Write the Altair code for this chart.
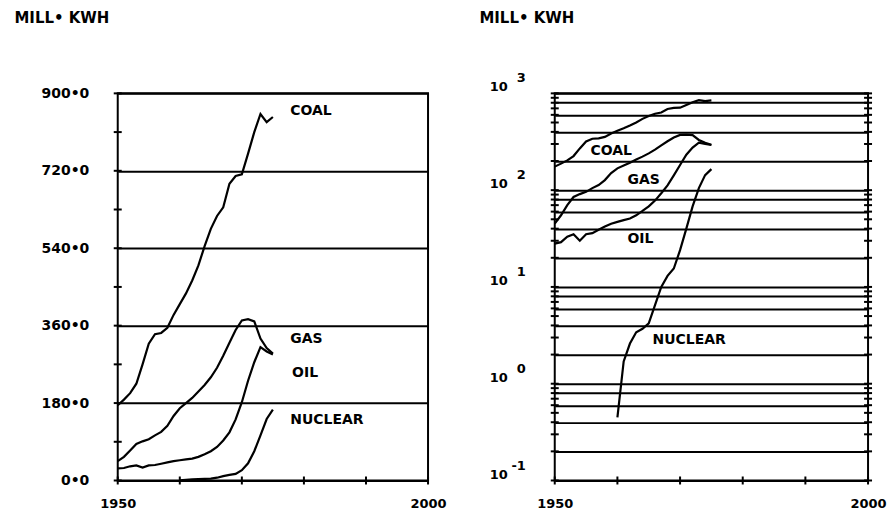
import altair as alt
import pandas as pd

# ---------------- data ----------------
years = list(range(1950, 1976))
coal = [175, 188, 203, 225, 270, 318, 340, 343, 355, 385, 410, 435, 465, 500,
        545, 585, 615, 635, 690, 708, 712, 760, 810, 852, 833, 845]
gas = [45, 55, 70, 85, 91, 96, 105, 113, 127, 150, 168, 180, 192, 207,
       222, 240, 262, 290, 320, 350, 372, 375, 370, 330, 308, 295]
oil = [28, 29, 33, 35, 30, 35, 36, 39, 42, 45, 47, 49, 51, 55,
       61, 68, 78, 93, 112, 142, 182, 232, 275, 310, 300, 293]
nuclear_years = list(range(1960, 1976))
nuclear = [0.45, 1.7, 2.6, 3.4, 3.7, 4.2, 6.5, 10, 13, 15.5, 24, 40, 68, 105, 143, 165]

label_names = ["COAL", "GAS", "OIL", "NUCLEAR"]
lin_label_year = [1977.8, 1977.8, 1978.1, 1977.8]
lin_label_value = [858, 329, 250, 141]
log_label_year = [1955.7, 1961.6, 1961.6, 1965.6]
log_label_value = [252, 128, 31, 2.81]

lin_ticks = list(range(0, 901, 90))
lin_grid = [0, 180, 360, 540, 720, 900]
year_ticks = list(range(1950, 2001, 10))
decades = [0.1, 1, 10, 100, 1000]
exponents = ["-1", "0", "1", "2", "3"]
log_grid = [m * d for d in [0.1, 1, 10, 100] for m in (1, 2, 4, 6, 8)] + [1000]
log_ticks = [m * d for d in [0.1, 1, 10, 100] for m in range(1, 10)] + [1000]

# ---------------- tables ----------------
rows = []
for name, vals in [("COAL", coal), ("GAS", gas), ("OIL", oil)]:
    rows += [{"source": name, "year": y, "value": v} for y, v in zip(years, vals)]
rows += [{"source": "NUCLEAR", "year": y, "value": v} for y, v in zip(nuclear_years, nuclear)]
df = pd.DataFrame(rows)

lin_lab = pd.DataFrame({"text": label_names, "year": lin_label_year, "value": lin_label_value})
log_lab = pd.DataFrame({"text": label_names, "year": log_label_year, "value": log_label_value})

FONT = "DejaVu Sans"
W1, W2, H = 311, 314, 388
TITLE = "MILL\u2022 KWH"

xscale = alt.Scale(domain=[1950, 2000], nice=False, zero=False)
xaxis = alt.Axis(values=[1950, 2000], format="d", title=None, ticks=False, domain=False,
                 grid=False, labelFont=FONT, labelFontSize=13, labelFontWeight="bold",
                 labelColor="black", labelPadding=17, labelFlush=False, labelOverlap=False)

# ---------------- left (linear) panel ----------------
lscale = alt.Scale(domain=[0, 900], nice=False, zero=True)
laxis = alt.Axis(values=lin_grid, grid=True, gridColor="black", gridWidth=2, gridOpacity=1,
                 ticks=False, domain=False,
                 labelExpr="replace(format(datum.value, '.1f'), '.', '\u2022')",
                 labelFont=FONT, labelFontSize=14, labelFontWeight="bold", labelColor="black",
                 labelPadding=29, title=TITLE, titleAngle=0, titleAlign="left",
                 titleBaseline="middle", titleX=-104, titleY=-76, titleFont=FONT,
                 titleFontSize=15, titleFontWeight="bold", titleColor="black")

l_lines = alt.Chart(df).mark_line(color="black", strokeWidth=2.2).encode(
    x=alt.X("year:Q", scale=xscale, axis=xaxis),
    y=alt.Y("value:Q", scale=lscale, axis=laxis),
    detail="source:N",
)
l_yt = alt.Chart(pd.DataFrame({"value": lin_ticks})).mark_rule(color="black", strokeWidth=2).encode(
    y=alt.Y("value:Q"), x=alt.value(-4), x2=alt.value(4))
l_xt = alt.Chart(pd.DataFrame({"year": year_ticks})).mark_rule(color="black", strokeWidth=2).encode(
    x=alt.X("year:Q"), y=alt.value(H - 4), y2=alt.value(H + 4))
l_txt = alt.Chart(lin_lab).mark_text(font=FONT, fontSize=14, fontWeight="bold", color="black",
                                     align="left", baseline="middle").encode(
    x=alt.X("year:Q"), y=alt.Y("value:Q"), text="text:N")

left = alt.layer(l_lines, l_yt, l_xt, l_txt).properties(width=W1, height=H)

# ---------------- right (log) panel ----------------
gscale = alt.Scale(type="log", domain=[0.1, 1000], nice=False)
gaxis = alt.Axis(values=log_grid, grid=True, gridColor="black", gridWidth=2, gridOpacity=1,
                 ticks=False, domain=False, labels=False,
                 title=TITLE, titleAngle=0, titleAlign="left", titleBaseline="middle",
                 titleX=-76, titleY=-76, titleFont=FONT, titleFontSize=15,
                 titleFontWeight="bold", titleColor="black")

r_lines = alt.Chart(df).mark_line(color="black", strokeWidth=2.2).encode(
    x=alt.X("year:Q", scale=xscale, axis=xaxis),
    y=alt.Y("value:Q", scale=gscale, axis=gaxis),
    detail="source:N",
)
tick_df = pd.DataFrame({"value": log_ticks})
r_yt_l = alt.Chart(tick_df).mark_rule(color="black", strokeWidth=2).encode(
    y=alt.Y("value:Q"), x=alt.value(-4), x2=alt.value(4))
r_yt_r = alt.Chart(tick_df).mark_rule(color="black", strokeWidth=2).encode(
    y=alt.Y("value:Q"), x=alt.value(W2 - 4), x2=alt.value(W2 + 4))
r_xt = alt.Chart(pd.DataFrame({"year": year_ticks})).mark_rule(color="black", strokeWidth=2).encode(
    x=alt.X("year:Q"), y=alt.value(H - 4), y2=alt.value(H + 4))
dec_df = pd.DataFrame({"value": decades, "exp": exponents})
r_ten = alt.Chart(dec_df).mark_text(font=FONT, fontSize=13, fontWeight="bold", color="black",
                                    align="right", baseline="middle", dy=-6).encode(
    y=alt.Y("value:Q"), x=alt.value(-47), text=alt.value("10"))
r_exp = alt.Chart(dec_df).mark_text(font=FONT, fontSize=13, fontWeight="bold", color="black",
                                    align="right", baseline="middle", dy=-15).encode(
    y=alt.Y("value:Q"), x=alt.value(-29), text="exp:N")
r_txt = alt.Chart(log_lab).mark_text(font=FONT, fontSize=14, fontWeight="bold", color="black",
                                     align="left", baseline="middle").encode(
    x=alt.X("year:Q"), y=alt.Y("value:Q"), text="text:N")

right = alt.layer(r_lines, r_yt_l, r_yt_r, r_xt, r_ten, r_exp, r_txt).properties(width=W2, height=H)

chart = alt.hconcat(left, right, spacing=30).properties(
    padding={"left": 13, "top": 9, "right": 0, "bottom": 2},
    background="white",
).configure_view(stroke="black", strokeWidth=2)

chart.save("out.html", embed_options={"renderer": "svg", "actions": False})
